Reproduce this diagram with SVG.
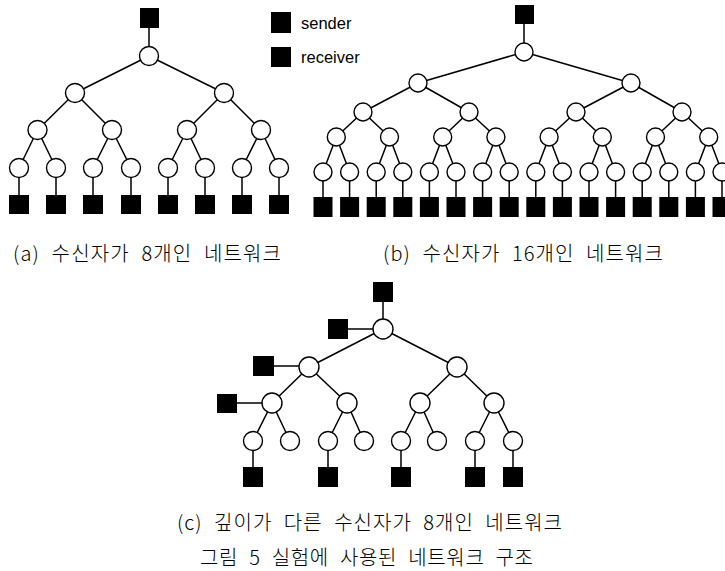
<svg xmlns="http://www.w3.org/2000/svg" width="725" height="571" viewBox="0 0 725 571">
<style>
.e{stroke:#000;stroke-width:1.5;fill:none}
.n{fill:#fff;stroke:#000;stroke-width:1.4}
.s{fill:#000}
.lg{font-family:"Liberation Sans",Arial,sans-serif;font-size:16.5px;fill:#000}
.cap{font-family:"Noto Sans CJK KR","Noto Sans",sans-serif;font-size:20px;font-weight:300;fill:#000;word-spacing:6px}
</style>
<rect width="725" height="571" fill="#fff"/>
<g id="connectors" class="e">
<!-- tree a -->
<path d="M149,18V56 M149,56L75,93 M149,56L224,93 M75,93L37.5,130 M75,93L112,130 M224,93L187,130 M224,93L261,130 M37.5,130L19,168 M37.5,130L56,168 M112,130L93,168 M112,130L131,168 M187,130L168,168 M187,130L205,168 M261,130L242,168 M261,130L279,168 M19,168V205 M56,168V205 M93,168V205 M131,168V205 M168,168V205 M205,168V205 M242,168V205 M279,168V205"/>
<!-- tree b -->
<path d="M524,14V52 M524,52L418,83 M524,52L631,83 M418,83L363,112 M418,83L469,112 M631,83L576,112 M631,83L682,112 M363,112L336.3,137 M363,112L389.5,137 M469,112L442.7,137 M469,112L495.9,137 M576,112L549.1,137 M576,112L602.3,137 M682,112L655.5,137 M682,112L708.7,137 M336.3,137L323,172 M336.3,137L349.6,172 M389.5,137L376.2,172 M389.5,137L402.8,172 M442.7,137L429.4,172 M442.7,137L456,172 M495.9,137L482.6,172 M495.9,137L509.2,172 M549.1,137L535.8,172 M549.1,137L562.4,172 M602.3,137L589,172 M602.3,137L615.6,172 M655.5,137L642.2,172 M655.5,137L668.8,172 M708.7,137L695.4,172 M708.7,137L722,172 M323,172V207 M349.6,172V207 M376.2,172V207 M402.8,172V207 M429.4,172V207 M456,172V207 M482.6,172V207 M509.2,172V207 M535.8,172V207 M562.4,172V207 M589,172V207 M615.6,172V207 M642.2,172V207 M668.8,172V207 M695.4,172V207 M722,172V207"/>
<!-- tree c -->
<path d="M383,292V329 M338,329H383 M383,329L309,367 M383,329L457,367 M263,366H309 M309,367L272,403 M309,367L347,403 M457,367L420,403 M457,367L494,403 M227,403H272 M272,403L253,441 M272,403L290,441 M347,403L328,441 M347,403L364,441 M420,403L401,441 M420,403L437,441 M494,403L475,441 M494,403L513,441 M253,441V477 M328,441V477 M401,441V477 M475,441V477 M513,441V477"/>
</g>
<g id="tree-a">
<g id="a-sender"><rect class="s" x="140" y="8" width="19" height="20"/></g>
<g id="a-r"><circle class="n" cx="149" cy="56" r="9.5"/></g>
<g id="a-l2-1"><circle class="n" cx="75" cy="93" r="9.5"/></g>
<g id="a-l2-2"><circle class="n" cx="224" cy="93" r="9.5"/></g>
<g id="a-l3-1"><circle class="n" cx="37.5" cy="130" r="9.5"/></g>
<g id="a-l3-2"><circle class="n" cx="112" cy="130" r="9.5"/></g>
<g id="a-l3-3"><circle class="n" cx="187" cy="130" r="9.5"/></g>
<g id="a-l3-4"><circle class="n" cx="261" cy="130" r="9.5"/></g>
<g id="a-l4-1"><circle class="n" cx="19" cy="168" r="9.5"/></g>
<g id="a-l4-2"><circle class="n" cx="56" cy="168" r="9.5"/></g>
<g id="a-l4-3"><circle class="n" cx="93" cy="168" r="9.5"/></g>
<g id="a-l4-4"><circle class="n" cx="131" cy="168" r="9.5"/></g>
<g id="a-l4-5"><circle class="n" cx="168" cy="168" r="9.5"/></g>
<g id="a-l4-6"><circle class="n" cx="205" cy="168" r="9.5"/></g>
<g id="a-l4-7"><circle class="n" cx="242" cy="168" r="9.5"/></g>
<g id="a-l4-8"><circle class="n" cx="279" cy="168" r="9.5"/></g>
<g id="a-rx-1"><rect class="s" x="9" y="195" width="20" height="19"/></g>
<g id="a-rx-2"><rect class="s" x="46" y="195" width="20" height="19"/></g>
<g id="a-rx-3"><rect class="s" x="83" y="195" width="20" height="19"/></g>
<g id="a-rx-4"><rect class="s" x="121" y="195" width="20" height="19"/></g>
<g id="a-rx-5"><rect class="s" x="158" y="195" width="20" height="19"/></g>
<g id="a-rx-6"><rect class="s" x="195" y="195" width="20" height="19"/></g>
<g id="a-rx-7"><rect class="s" x="232" y="195" width="20" height="19"/></g>
<g id="a-rx-8"><rect class="s" x="269" y="195" width="20" height="19"/></g>
</g>
<g id="legend">
<g id="legend-sender"><rect class="s" x="271" y="12" width="20" height="21"/><text class="lg" x="301" y="29">sender</text></g>
<g id="legend-receiver"><rect class="s" x="271" y="47" width="20" height="20"/><text class="lg" x="301" y="63">receiver</text></g>
</g>
<g id="tree-b">
<g id="b-sender"><rect class="s" x="515" y="5" width="19" height="19"/></g>
<g id="b-r"><circle class="n" cx="524" cy="52" r="9"/></g>
<g id="b-l2-1"><circle class="n" cx="418" cy="83" r="9"/></g>
<g id="b-l2-2"><circle class="n" cx="631" cy="83" r="9"/></g>
<g id="b-l3-1"><circle class="n" cx="363" cy="112" r="9"/></g>
<g id="b-l3-2"><circle class="n" cx="469" cy="112" r="9"/></g>
<g id="b-l3-3"><circle class="n" cx="576" cy="112" r="9"/></g>
<g id="b-l3-4"><circle class="n" cx="682" cy="112" r="9"/></g>
<g id="b-l4-1"><circle class="n" cx="336.3" cy="137" r="9"/></g>
<g id="b-l4-2"><circle class="n" cx="389.5" cy="137" r="9"/></g>
<g id="b-l4-3"><circle class="n" cx="442.7" cy="137" r="9"/></g>
<g id="b-l4-4"><circle class="n" cx="495.9" cy="137" r="9"/></g>
<g id="b-l4-5"><circle class="n" cx="549.1" cy="137" r="9"/></g>
<g id="b-l4-6"><circle class="n" cx="602.3" cy="137" r="9"/></g>
<g id="b-l4-7"><circle class="n" cx="655.5" cy="137" r="9"/></g>
<g id="b-l4-8"><circle class="n" cx="708.7" cy="137" r="9"/></g>
<g id="b-l5-1"><circle class="n" cx="323" cy="172" r="9"/></g>
<g id="b-l5-2"><circle class="n" cx="349.6" cy="172" r="9"/></g>
<g id="b-l5-3"><circle class="n" cx="376.2" cy="172" r="9"/></g>
<g id="b-l5-4"><circle class="n" cx="402.8" cy="172" r="9"/></g>
<g id="b-l5-5"><circle class="n" cx="429.4" cy="172" r="9"/></g>
<g id="b-l5-6"><circle class="n" cx="456" cy="172" r="9"/></g>
<g id="b-l5-7"><circle class="n" cx="482.6" cy="172" r="9"/></g>
<g id="b-l5-8"><circle class="n" cx="509.2" cy="172" r="9"/></g>
<g id="b-l5-9"><circle class="n" cx="535.8" cy="172" r="9"/></g>
<g id="b-l5-10"><circle class="n" cx="562.4" cy="172" r="9"/></g>
<g id="b-l5-11"><circle class="n" cx="589" cy="172" r="9"/></g>
<g id="b-l5-12"><circle class="n" cx="615.6" cy="172" r="9"/></g>
<g id="b-l5-13"><circle class="n" cx="642.2" cy="172" r="9"/></g>
<g id="b-l5-14"><circle class="n" cx="668.8" cy="172" r="9"/></g>
<g id="b-l5-15"><circle class="n" cx="695.4" cy="172" r="9"/></g>
<g id="b-l5-16"><circle class="n" cx="722" cy="172" r="9"/></g>
<g id="b-rx-1"><rect class="s" x="313.5" y="197" width="19" height="20"/></g>
<g id="b-rx-2"><rect class="s" x="340.1" y="197" width="19" height="20"/></g>
<g id="b-rx-3"><rect class="s" x="366.7" y="197" width="19" height="20"/></g>
<g id="b-rx-4"><rect class="s" x="393.3" y="197" width="19" height="20"/></g>
<g id="b-rx-5"><rect class="s" x="419.9" y="197" width="19" height="20"/></g>
<g id="b-rx-6"><rect class="s" x="446.5" y="197" width="19" height="20"/></g>
<g id="b-rx-7"><rect class="s" x="473.1" y="197" width="19" height="20"/></g>
<g id="b-rx-8"><rect class="s" x="499.7" y="197" width="19" height="20"/></g>
<g id="b-rx-9"><rect class="s" x="526.3" y="197" width="19" height="20"/></g>
<g id="b-rx-10"><rect class="s" x="552.9" y="197" width="19" height="20"/></g>
<g id="b-rx-11"><rect class="s" x="579.5" y="197" width="19" height="20"/></g>
<g id="b-rx-12"><rect class="s" x="606.1" y="197" width="19" height="20"/></g>
<g id="b-rx-13"><rect class="s" x="632.7" y="197" width="19" height="20"/></g>
<g id="b-rx-14"><rect class="s" x="659.3" y="197" width="19" height="20"/></g>
<g id="b-rx-15"><rect class="s" x="685.9" y="197" width="19" height="20"/></g>
<g id="b-rx-16"><rect class="s" x="712.5" y="197" width="19" height="20"/></g>
</g>
<g id="tree-c">
<g id="c-sender"><rect class="s" x="373" y="282" width="20" height="20"/></g>
<g id="c-r"><circle class="n" cx="383" cy="329" r="10"/></g>
<g id="c-rx-r"><rect class="s" x="328" y="319" width="20" height="20"/></g>
<g id="c-l2-1"><circle class="n" cx="309" cy="367" r="10"/></g>
<g id="c-l2-2"><circle class="n" cx="457" cy="367" r="10"/></g>
<g id="c-rx-l2"><rect class="s" x="253" y="356" width="21" height="20"/></g>
<g id="c-l3-1"><circle class="n" cx="272" cy="403" r="10"/></g>
<g id="c-l3-2"><circle class="n" cx="347" cy="403" r="10"/></g>
<g id="c-l3-3"><circle class="n" cx="420" cy="403" r="10"/></g>
<g id="c-l3-4"><circle class="n" cx="494" cy="403" r="10"/></g>
<g id="c-rx-l3"><rect class="s" x="217" y="394" width="20" height="19"/></g>
<g id="c-l4-1"><circle class="n" cx="253" cy="441" r="9.5"/></g>
<g id="c-l4-2"><circle class="n" cx="290" cy="441" r="9.5"/></g>
<g id="c-l4-3"><circle class="n" cx="328" cy="441" r="9.5"/></g>
<g id="c-l4-4"><circle class="n" cx="364" cy="441" r="9.5"/></g>
<g id="c-l4-5"><circle class="n" cx="401" cy="441" r="9.5"/></g>
<g id="c-l4-6"><circle class="n" cx="437" cy="441" r="9.5"/></g>
<g id="c-l4-7"><circle class="n" cx="475" cy="441" r="9.5"/></g>
<g id="c-l4-8"><circle class="n" cx="513" cy="441" r="9.5"/></g>
<g id="c-rx-1"><rect class="s" x="243" y="467" width="20" height="20"/></g>
<g id="c-rx-2"><rect class="s" x="318" y="467" width="20" height="20"/></g>
<g id="c-rx-3"><rect class="s" x="391" y="467" width="20" height="20"/></g>
<g id="c-rx-4"><rect class="s" x="465" y="467" width="20" height="20"/></g>
<g id="c-rx-5"><rect class="s" x="503" y="467" width="20" height="20"/></g>
</g>
<g id="captions">
<text class="cap" x="13" y="261" textLength="268" lengthAdjust="spacing">(a) 수신자가 8개인 네트워크</text>
<text class="cap" x="383" y="261" textLength="280" lengthAdjust="spacing">(b) 수신자가 16개인 네트워크</text>
<text class="cap" x="177" y="530" textLength="385" lengthAdjust="spacing">(c) 깊이가 다른 수신자가 8개인 네트워크</text>
<text class="cap" x="200" y="565" textLength="333" lengthAdjust="spacing">그림 5 실험에 사용된 네트워크 구조</text>
</g>
</svg>
